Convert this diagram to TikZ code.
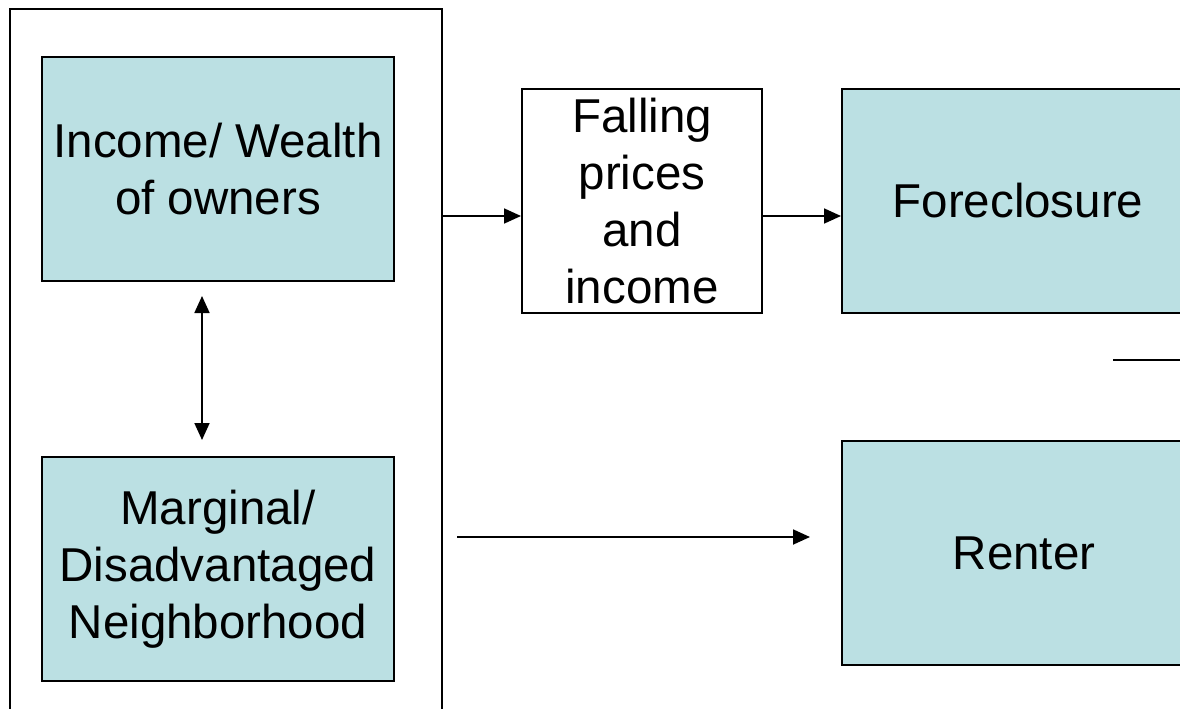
\documentclass[tikz,border=0pt]{standalone}
\usepackage{fontspec}
\setmainfont{Liberation Sans}
\usetikzlibrary{arrows.meta}
\definecolor{boxfill}{RGB}{187,224,227}
\tikzset{
  box/.style={draw=black, line width=2pt, minimum width=352pt, minimum height=224pt, inner sep=0pt, align=center, font=\fontsize{47.5}{57}\selectfont},
  filled/.style={box, fill=boxfill},
  conn/.style={line width=1.8pt, -{Triangle[length=17pt,width=15pt]}},
  dconn/.style={line width=1.8pt, {Triangle[length=17pt,width=15pt]}-{Triangle[length=17pt,width=15pt]}}
}
\begin{document}
\begin{tikzpicture}[x=1pt,y=-1pt]
\useasboundingbox (0,0) rectangle (1180,709);
\clip (0,0) rectangle (1180,709);
\fill[white] (0,0) rectangle (1180,709);
% outer frame (open at the bottom, runs past the edge)
\node[draw=black, line width=2pt, minimum width=432pt, minimum height=730pt, inner sep=0pt] (frame) at (226,374) {};
\node[filled] (income) at (218,169) {Income/ Wealth\\of owners};
\node[filled] (marginal) at (218,569) {Marginal/\\Disadvantaged\\Neighborhood};
\node[box, fill=white, minimum width=240pt, text depth=-3pt] (falling) at (642,201) {Falling\\prices\\and\\income};
\node[filled] (foreclosure) at (1018,201) {Foreclosure};
\node[filled] (renter) at (1018,553) {\hspace*{12pt}Renter};
% connectors
\coordinate (y1) at (0,216);
\draw[conn] (frame.east |- y1) -- (falling.west |- y1);
\draw[conn] (falling.east |- y1) -- (foreclosure.west |- y1);
\coordinate (d1) at (202,296);
\coordinate (d2) at (202,440);
\draw[dconn] (d1) -- (d2);
\coordinate (b1) at (457,537);
\coordinate (b2) at (810,537);
\draw[conn] (b1) -- (b2);
\coordinate (s1) at (1113,360);
\coordinate (s2) at (1185,360);
\draw[line width=2pt] (s1) -- (s2);
\end{tikzpicture}
\end{document}
